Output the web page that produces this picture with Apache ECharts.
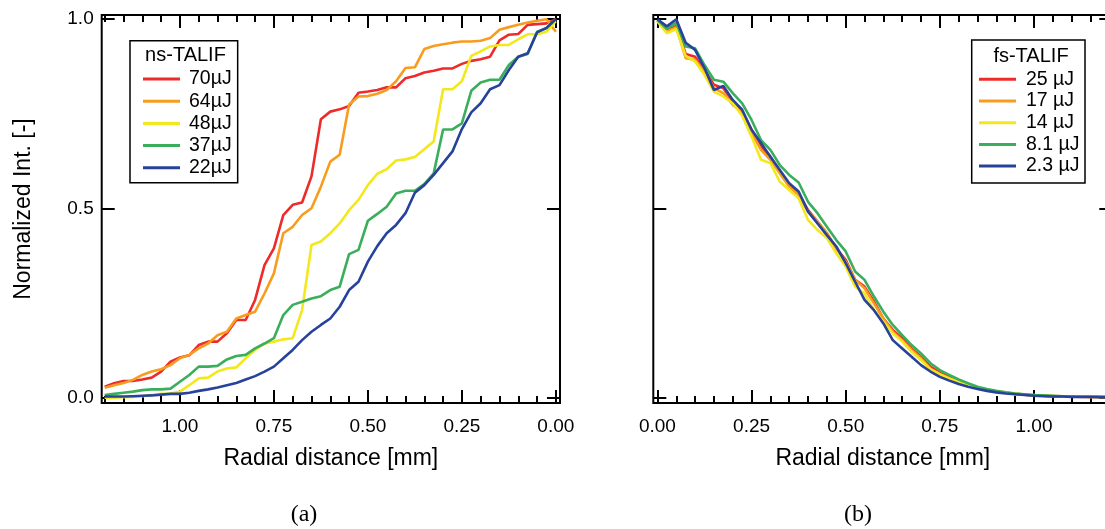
<!DOCTYPE html>
<html><head><meta charset="utf-8">
<script src="https://cdn.jsdelivr.net/npm/echarts@6/dist/echarts.min.js"></script>
<style>html,body{margin:0;padding:0;background:#fff}#c{width:1105px;height:529px}</style>
</head><body><div id="c"></div>
<script>
// ---- data ----
const radius = [0.000,0.025,0.050,0.075,0.100,0.125,0.150,0.175,0.200,0.225,0.250,0.275,0.300,0.325,0.350,0.375,0.400,0.425,0.450,0.475,0.500,0.525,0.550,0.575,0.600,0.625,0.650,0.675,0.700,0.725,0.750,0.775,0.800,0.825,0.850,0.875,0.900,0.925,0.950,0.975,1.000,1.025,1.050,1.075,1.100,1.125,1.150,1.175,1.200];

const nsNames = ['70µJ','64µJ','48µJ','37µJ','22µJ'];
const ns70 = [1.000,0.989,0.987,0.985,0.961,0.959,0.944,0.901,0.894,0.890,0.882,0.870,0.870,0.864,0.859,0.850,0.844,0.820,0.820,0.813,0.809,0.806,0.771,0.762,0.756,0.736,0.585,0.516,0.510,0.483,0.395,0.351,0.259,0.206,0.206,0.171,0.149,0.149,0.140,0.113,0.107,0.096,0.070,0.054,0.049,0.045,0.045,0.039,0.030];
const ns64 = [0.967,1.000,0.996,0.991,0.985,0.979,0.972,0.950,0.943,0.941,0.941,0.938,0.934,0.929,0.921,0.873,0.871,0.836,0.813,0.803,0.797,0.796,0.775,0.642,0.624,0.558,0.501,0.483,0.452,0.435,0.329,0.276,0.228,0.219,0.210,0.175,0.166,0.144,0.131,0.114,0.105,0.087,0.076,0.070,0.061,0.048,0.040,0.034,0.027];
const ns48 = [0.995,0.967,0.960,0.960,0.947,0.932,0.932,0.928,0.915,0.903,0.836,0.815,0.815,0.677,0.657,0.636,0.630,0.627,0.604,0.592,0.562,0.523,0.496,0.461,0.435,0.413,0.404,0.232,0.158,0.155,0.149,0.144,0.127,0.105,0.081,0.078,0.070,0.054,0.052,0.034,0.017,0.012,0.011,0.008,0.005,0.003,0.002,0.001,0.001];
const ns37 = [1.000,0.976,0.967,0.908,0.901,0.879,0.840,0.840,0.833,0.811,0.725,0.709,0.709,0.593,0.565,0.547,0.547,0.540,0.505,0.486,0.468,0.391,0.380,0.294,0.285,0.269,0.263,0.254,0.246,0.219,0.158,0.144,0.131,0.114,0.111,0.102,0.085,0.083,0.083,0.061,0.043,0.025,0.023,0.023,0.021,0.017,0.014,0.011,0.008];
const ns22 = [1.000,0.977,0.965,0.910,0.901,0.866,0.826,0.815,0.778,0.754,0.710,0.651,0.620,0.589,0.562,0.542,0.488,0.457,0.435,0.401,0.360,0.307,0.285,0.241,0.210,0.193,0.175,0.153,0.127,0.105,0.083,0.070,0.058,0.049,0.040,0.034,0.028,0.023,0.019,0.014,0.011,0.011,0.009,0.007,0.006,0.005,0.004,0.004,0.004];

const fsNames = ['25 µJ','17 µJ','14 µJ','8.1 µJ','2.3 µJ'];
const fs25 = [0.996,0.970,0.982,0.908,0.901,0.866,0.827,0.818,0.783,0.756,0.708,0.664,0.637,0.598,0.562,0.540,0.496,0.466,0.435,0.395,0.365,0.312,0.294,0.255,0.210,0.180,0.158,0.131,0.109,0.083,0.067,0.056,0.046,0.036,0.028,0.021,0.017,0.014,0.011,0.009,0.007,0.006,0.005,0.005,0.004,0.004,0.003,0.003,0.003];
const fs17 = [0.996,0.967,0.979,0.897,0.893,0.862,0.818,0.805,0.774,0.752,0.699,0.655,0.629,0.593,0.558,0.536,0.492,0.466,0.435,0.395,0.360,0.312,0.290,0.250,0.210,0.175,0.153,0.127,0.105,0.078,0.063,0.052,0.043,0.034,0.027,0.021,0.017,0.014,0.011,0.009,0.007,0.006,0.005,0.004,0.004,0.003,0.003,0.003,0.003];
const fs14 = [0.994,0.963,0.974,0.903,0.888,0.853,0.809,0.796,0.778,0.745,0.690,0.629,0.620,0.571,0.549,0.527,0.470,0.444,0.422,0.382,0.347,0.294,0.276,0.232,0.202,0.171,0.149,0.122,0.100,0.076,0.063,0.052,0.043,0.034,0.027,0.023,0.018,0.015,0.012,0.009,0.008,0.007,0.006,0.005,0.004,0.004,0.003,0.003,0.003];
const fs8 = [0.998,0.974,0.991,0.928,0.923,0.879,0.840,0.835,0.805,0.778,0.734,0.681,0.655,0.615,0.589,0.569,0.518,0.488,0.452,0.417,0.387,0.334,0.312,0.268,0.228,0.193,0.166,0.140,0.118,0.092,0.074,0.061,0.049,0.039,0.030,0.024,0.019,0.015,0.012,0.010,0.008,0.007,0.006,0.005,0.005,0.004,0.004,0.004,0.003];
const fs2 = [1.000,0.981,1.000,0.938,0.919,0.871,0.813,0.824,0.787,0.761,0.708,0.673,0.637,0.602,0.567,0.545,0.492,0.461,0.430,0.400,0.356,0.307,0.259,0.232,0.197,0.153,0.131,0.109,0.087,0.070,0.056,0.046,0.037,0.030,0.024,0.019,0.015,0.012,0.010,0.008,0.006,0.005,0.004,0.004,0.003,0.003,0.003,0.002,0.002];

const xMajorTicks = [0, 0.25, 0.5, 0.75, 1.0];
const xMinorStep = 0.05;
const yTicks = [0, 0.5, 1.0];

// ---- styling ----
const colors = ['#ee2b2b', '#f89c1e', '#f3e81c', '#3bae5b', '#27429a'];
const FONT = '"Liberation Sans", Arial, sans-serif';
const xRange = [-0.011, 1.208];
const yRange = [-0.013, 1.011];

const xMinorTicks = [];
for (let k = 0; k * xMinorStep <= 1.2001; k++) xMinorTicks.push(+(k * xMinorStep).toFixed(2));

function xAx(grid, pos, ticks, len, withLabels, inverse) {
  const a = {
    type: 'value', gridIndex: grid, position: pos, inverse: inverse,
    min: xRange[0], max: xRange[1],
    axisLine: { show: false, onZero: false }, splitLine: { show: false },
    axisTick: { show: true, inside: true, length: len, customValues: ticks,
      lineStyle: { color: '#000', width: 2 } },
    axisLabel: { show: withLabels }
  };
  if (withLabels) {
    a.axisLabel = { show: true, customValues: xMajorTicks, margin: 14,
      formatter: v => v.toFixed(2), color: '#000', fontSize: 19, fontFamily: FONT };
    a.name = 'Radial distance [mm]';
    a.nameLocation = 'middle';
    a.nameGap = 44;
    a.nameTextStyle = { color: '#000', fontSize: 23, fontFamily: FONT };
  }
  return a;
}
function yAx(grid, pos, withLabels) {
  const a = {
    type: 'value', gridIndex: grid, position: pos,
    min: yRange[0], max: yRange[1],
    axisLine: { show: false, onZero: false }, splitLine: { show: false },
    axisTick: { show: true, inside: true, length: 13, customValues: yTicks,
      lineStyle: { color: '#000', width: 2 } },
    axisLabel: { show: false }
  };
  if (withLabels) {
    a.axisLabel = { show: true, customValues: yTicks, margin: 8,
      formatter: v => v.toFixed(1), color: '#000', fontSize: 19, fontFamily: FONT };
    a.name = 'Normalized Int. [-]';
    a.nameLocation = 'middle';
    a.nameRotate = 90;
    a.nameGap = 67;
    a.nameTextStyle = { color: '#000', fontSize: 23, fontFamily: FONT };
  }
  return a;
}

const xAxes = [
  xAx(0, 'bottom', xMajorTicks, 13, true, true),
  xAx(0, 'bottom', xMinorTicks, 7, false, true),
  xAx(0, 'top', xMajorTicks, 13, false, true),
  xAx(0, 'top', xMinorTicks, 7, false, true),
  xAx(1, 'bottom', xMajorTicks, 13, true, false),
  xAx(1, 'bottom', xMinorTicks, 7, false, false),
  xAx(1, 'top', xMajorTicks, 13, false, false),
  xAx(1, 'top', xMinorTicks, 7, false, false)
];
const yAxes = [yAx(0, 'left', true), yAx(0, 'right', false), yAx(1, 'left', false), yAx(1, 'right', false)];

const series = [];
[ns70, ns64, ns48, ns37, ns22].forEach((vals, i) => {
  series.push({ name: nsNames[i], type: 'line', xAxisIndex: 0, yAxisIndex: 0,
    data: radius.map((r, j) => [r, vals[j]]), showSymbol: false, color: colors[i],
    lineStyle: { width: 2.6, color: colors[i] }, emphasis: { disabled: true } });
});
[fs25, fs17, fs14, fs8, fs2].forEach((vals, i) => {
  series.push({ name: fsNames[i], type: 'line', xAxisIndex: 4, yAxisIndex: 2,
    data: radius.map((r, j) => [r, vals[j]]), showSymbol: false, color: colors[i],
    lineStyle: { width: 2.6, color: colors[i] }, emphasis: { disabled: true } });
});

const legendText = { color: '#000', fontSize: 19.5, lineHeight: 20, fontFamily: FONT };
const option = {
  animation: false,
  backgroundColor: '#fff',
  grid: [
    { left: 101.7, top: 15, width: 458.3, height: 388, show: true, borderColor: '#000', borderWidth: 2, backgroundColor: 'transparent', containLabel: false, outerBoundsMode: 'none' },
    { left: 653.3, top: 15, width: 459, height: 388, show: true, borderColor: '#000', borderWidth: 2, backgroundColor: 'transparent', containLabel: false, outerBoundsMode: 'none' }
  ],
  xAxis: xAxes,
  yAxis: yAxes,
  legend: [
    { data: nsNames, orient: 'vertical', left: 130, top: 40.7, padding: [28.3, 6, 5, 13],
      itemWidth: 37, itemHeight: 3, itemGap: 2.2, icon: 'rect', borderColor: '#000', borderWidth: 1.5,
      backgroundColor: '#fff', selectedMode: false, textStyle: Object.assign({ padding: [0, 0, 0, 4] }, legendText) },
    { data: fsNames, orient: 'vertical', left: 971.7, top: 40, padding: [29.3, 5.5, 7, 7.3],
      itemWidth: 37, itemHeight: 3, itemGap: 1.7, icon: 'rect', borderColor: '#000', borderWidth: 1.5,
      backgroundColor: '#fff', selectedMode: false, textStyle: Object.assign({ padding: [0, 0, 0, 5] }, legendText) }
  ],
  graphic: [
    { type: 'text', z: 100, style: { text: 'ns-TALIF', x: 185.5, y: 55.5, align: 'center', verticalAlign: 'middle', fontSize: 20, fontFamily: FONT, fill: '#000' } },
    { type: 'text', z: 100, style: { text: 'fs-TALIF', x: 1031, y: 56.5, align: 'center', verticalAlign: 'middle', fontSize: 20, fontFamily: FONT, fill: '#000' } },
    { type: 'text', style: { text: '(a)', x: 304, y: 515, align: 'center', verticalAlign: 'middle', fontSize: 24, fontFamily: '"Liberation Serif", serif', fill: '#000' } },
    { type: 'text', style: { text: '(b)', x: 858, y: 515, align: 'center', verticalAlign: 'middle', fontSize: 24, fontFamily: '"Liberation Serif", serif', fill: '#000' } }
  ],
  series: series
};
const chart = echarts.init(document.getElementById('c'), null, { renderer: 'canvas' });
chart.setOption(option);
</script></body></html>
